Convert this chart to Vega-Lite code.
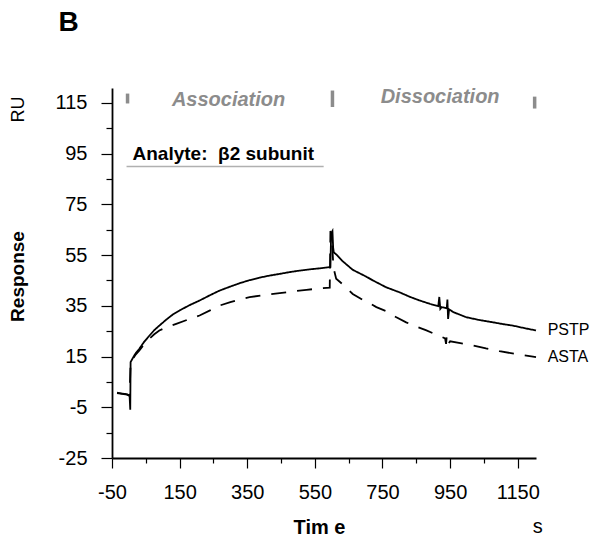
{
  "$schema": "https://vega.github.io/schema/vega-lite/v6.json",
  "width": 424,
  "height": 370,
  "autosize": {"type": "none"},
  "padding": {"left": 112, "top": 88, "right": 58, "bottom": 80},
  "background": "white",
  "config": {
    "font": "Liberation Sans",
    "view": {"stroke": null},
    "axis": {"grid": false, "domainColor": "black", "tickColor": "black", "labelColor": "black", "titleColor": "black"}
  },
  "resolve": {"axis": {"x": "independent", "y": "independent"}},
  "layer": [
    {
      "data": {
        "values": [
          {"series": "PSTP", "t": -35, "v": 0.8}, {"series": "PSTP", "t": -25, "v": 0.5}, {"series": "PSTP", "t": -15, "v": 0.3}, {"series": "PSTP", "t": -5, "v": 0.1}, {"series": "PSTP", "t": 2, "v": -0.4}, {"series": "PSTP", "t": 4, "v": -6},
          {"series": "PSTP", "t": 5, "v": 12.8}, {"series": "PSTP", "t": 12, "v": 14.5}, {"series": "PSTP", "t": 20, "v": 16.3}, {"series": "PSTP", "t": 31, "v": 18.1}, {"series": "PSTP", "t": 45, "v": 20.8}, {"series": "PSTP", "t": 61, "v": 23.3}, {"series": "PSTP", "t": 75, "v": 25.4}, {"series": "PSTP", "t": 90, "v": 27.2}, {"series": "PSTP", "t": 110, "v": 29.5}, {"series": "PSTP", "t": 130, "v": 31.6}, {"series": "PSTP", "t": 150, "v": 33.2}, {"series": "PSTP", "t": 180, "v": 35.3}, {"series": "PSTP", "t": 209, "v": 37.1}, {"series": "PSTP", "t": 240, "v": 39.2}, {"series": "PSTP", "t": 268, "v": 41}, {"series": "PSTP", "t": 300, "v": 42.6}, {"series": "PSTP", "t": 327, "v": 43.9}, {"series": "PSTP", "t": 356, "v": 45.1}, {"series": "PSTP", "t": 386, "v": 46.1}, {"series": "PSTP", "t": 415, "v": 46.9}, {"series": "PSTP", "t": 446, "v": 47.6}, {"series": "PSTP", "t": 475, "v": 48.3}, {"series": "PSTP", "t": 505, "v": 48.9}, {"series": "PSTP", "t": 535, "v": 49.4}, {"series": "PSTP", "t": 565, "v": 49.8}, {"series": "PSTP", "t": 596, "v": 50.3},
          {"series": "PSTP", "t": 598, "v": 63}, {"series": "PSTP", "t": 600, "v": 64}, {"series": "PSTP", "t": 602, "v": 64.5}, {"series": "PSTP", "t": 604, "v": 58}, {"series": "PSTP", "t": 606, "v": 56.1}, {"series": "PSTP", "t": 613, "v": 55.3}, {"series": "PSTP", "t": 633, "v": 52.5}, {"series": "PSTP", "t": 662, "v": 49.2}, {"series": "PSTP", "t": 702, "v": 46.5}, {"series": "PSTP", "t": 722, "v": 45}, {"series": "PSTP", "t": 761, "v": 42.3}, {"series": "PSTP", "t": 801, "v": 40.3}, {"series": "PSTP", "t": 830, "v": 38.6}, {"series": "PSTP", "t": 860, "v": 37.1}, {"series": "PSTP", "t": 890, "v": 35.8}, {"series": "PSTP", "t": 915, "v": 34.9}, {"series": "PSTP", "t": 918, "v": 38.5}, {"series": "PSTP", "t": 921, "v": 33.8}, {"series": "PSTP", "t": 925, "v": 34.5}, {"series": "PSTP", "t": 940, "v": 34}, {"series": "PSTP", "t": 942, "v": 37.5}, {"series": "PSTP", "t": 944, "v": 29.8}, {"series": "PSTP", "t": 947, "v": 33.6}, {"series": "PSTP", "t": 960, "v": 32.5}, {"series": "PSTP", "t": 998, "v": 30.5}, {"series": "PSTP", "t": 1037, "v": 29.4}, {"series": "PSTP", "t": 1077, "v": 28.5}, {"series": "PSTP", "t": 1106, "v": 27.8}, {"series": "PSTP", "t": 1136, "v": 27.2}, {"series": "PSTP", "t": 1170, "v": 26.2}, {"series": "PSTP", "t": 1204, "v": 25.3},
          {"series": "ASTA", "t": -35, "v": 0.6}, {"series": "ASTA", "t": -25, "v": 0.4}, {"series": "ASTA", "t": -15, "v": 0.2}, {"series": "ASTA", "t": -5, "v": 0}, {"series": "ASTA", "t": 2, "v": -0.5},
          {"series": "ASTA", "t": 5, "v": 12.5}, {"series": "ASTA", "t": 12, "v": 14.2}, {"series": "ASTA", "t": 20, "v": 15.8}, {"series": "ASTA", "t": 31, "v": 17.4}, {"series": "ASTA", "t": 45, "v": 19.9}, {"series": "ASTA", "t": 61, "v": 22.1}, {"series": "ASTA", "t": 75, "v": 23.8}, {"series": "ASTA", "t": 90, "v": 25.3}, {"series": "ASTA", "t": 110, "v": 26.5}, {"series": "ASTA", "t": 140, "v": 27.9}, {"series": "ASTA", "t": 175, "v": 29.6}, {"series": "ASTA", "t": 209, "v": 31.2}, {"series": "ASTA", "t": 240, "v": 33.2}, {"series": "ASTA", "t": 268, "v": 35.1}, {"series": "ASTA", "t": 300, "v": 36.5}, {"series": "ASTA", "t": 330, "v": 37.6}, {"series": "ASTA", "t": 357, "v": 38.4}, {"series": "ASTA", "t": 400, "v": 39.3}, {"series": "ASTA", "t": 446, "v": 40}, {"series": "ASTA", "t": 485, "v": 40.7}, {"series": "ASTA", "t": 525, "v": 41.3}, {"series": "ASTA", "t": 560, "v": 41.8}, {"series": "ASTA", "t": 594, "v": 42.2},
          {"series": "ASTA", "t": 596, "v": 64.5}, {"series": "ASTA", "t": 600, "v": 62}, {"series": "ASTA", "t": 605, "v": 50}, {"series": "ASTA", "t": 613, "v": 45.7}, {"series": "ASTA", "t": 632, "v": 43.5}, {"series": "ASTA", "t": 662, "v": 39.7}, {"series": "ASTA", "t": 690, "v": 37.5}, {"series": "ASTA", "t": 712, "v": 36}, {"series": "ASTA", "t": 732, "v": 34.5}, {"series": "ASTA", "t": 761, "v": 32.9}, {"series": "ASTA", "t": 791, "v": 30.5}, {"series": "ASTA", "t": 820, "v": 28.5}, {"series": "ASTA", "t": 850, "v": 26.8}, {"series": "ASTA", "t": 880, "v": 25.3}, {"series": "ASTA", "t": 910, "v": 23.6}, {"series": "ASTA", "t": 935, "v": 22.2}, {"series": "ASTA", "t": 938, "v": 20}, {"series": "ASTA", "t": 940, "v": 23}, {"series": "ASTA", "t": 943, "v": 19.8}, {"series": "ASTA", "t": 950, "v": 21}, {"series": "ASTA", "t": 980, "v": 20.3}, {"series": "ASTA", "t": 1017, "v": 19.4}, {"series": "ASTA", "t": 1056, "v": 18.2}, {"series": "ASTA", "t": 1096, "v": 17.1}, {"series": "ASTA", "t": 1145, "v": 16}, {"series": "ASTA", "t": 1195, "v": 15}, {"series": "ASTA", "t": 1204, "v": 14.8}
        ]
      },
      "mark": {"type": "line", "color": "black", "strokeWidth": 1.8, "interpolate": "linear"},
      "encoding": {
        "x": {"field": "t", "type": "quantitative", "scale": {"domain": [-50, 1204], "nice": false, "zero": false},
          "axis": {"orient": "bottom", "values": [-50, 150, 350, 550, 750, 950, 1150], "labelExpr": "'' + datum.value", "tickSize": 10, "tickWidth": 1.2, "domainWidth": 1.8, "labelFontSize": 20, "labelPadding": 14, "labelFlush": false, "labelOverlap": false,
            "title": "Tim e", "titleFontSize": 20, "titleFontWeight": "bold", "titleAlign": "center", "titleBaseline": "alphabetic", "titleX": 207, "titleY": 75}},
        "y": {"field": "v", "type": "quantitative", "scale": {"domain": [-25, 120.9], "nice": false, "zero": false},
          "axis": {"orient": "left", "values": [-25, -5, 15, 35, 55, 75, 95, 115], "labelExpr": "'' + datum.value", "tickSize": 11, "tickWidth": 1.2, "domainWidth": 1.8, "labelFontSize": 20, "labelPadding": 14, "labelFlush": false, "labelOverlap": false,
            "title": "Response", "titleFontSize": 19, "titleFontWeight": "bold", "titleAngle": 270, "titleAlign": "center", "titleBaseline": "alphabetic", "titleX": -89, "titleY": 188}},
        "strokeDash": {"field": "series", "type": "nominal", "scale": {"domain": ["PSTP", "ASTA"], "range": [[1, 0], [15, 11]]}, "legend": null}
      }
    },
    {
      "data": {"values": [{"t": -4, "v1": 114.8, "v2": 118.7}, {"t": 602, "v1": 113.4, "v2": 119.9}, {"t": 1200, "v1": 112.8, "v2": 117.5}]},
      "mark": {"type": "rule", "color": "#8c8c8c", "strokeWidth": 3.5},
      "encoding": {
        "x": {"field": "t", "type": "quantitative", "axis": {"orient": "bottom", "values": [50, 250, 450, 650, 850, 1050], "tickSize": 5, "tickWidth": 1.2, "labels": false, "domain": false, "title": null}},
        "y": {"field": "v1", "type": "quantitative", "axis": {"orient": "left", "values": [-15, 5, 25, 45, 65, 85, 105], "tickSize": 6, "tickWidth": 1.2, "labels": false, "domain": false, "title": null}},
        "y2": {"field": "v2"}
      }
    },
    {
      "data": {"values": [{"t1": -7, "t2": 576, "v": 89.9}]},
      "mark": {"type": "rule", "color": "#b0b0b0", "strokeWidth": 1.5},
      "encoding": {
        "x": {"field": "t1", "type": "quantitative", "axis": null},
        "x2": {"field": "t2"},
        "y": {"field": "v", "type": "quantitative", "axis": null}
      }
    },
    {
      "data": {"values": [{"label": "Association", "t": 294.7, "v": 116.2}, {"label": "Dissociation", "t": 920.4, "v": 117.2}]},
      "mark": {"type": "text", "fontSize": 20, "fontWeight": "bold", "fontStyle": "italic", "color": "#8c8c8c", "align": "center", "baseline": "middle"},
      "encoding": {
        "x": {"field": "t", "type": "quantitative", "axis": null},
        "y": {"field": "v", "type": "quantitative", "axis": null},
        "text": {"field": "label"}
      }
    },
    {
      "data": {"values": [{"label": "Analyte:\u00a0 β2 subunit", "t": 10.7, "v": 94.9}]},
      "mark": {"type": "text", "fontSize": 19, "fontWeight": "bold", "color": "black", "align": "left", "baseline": "middle"},
      "encoding": {
        "x": {"field": "t", "type": "quantitative", "axis": null},
        "y": {"field": "v", "type": "quantitative", "axis": null},
        "text": {"field": "label"}
      }
    },
    {
      "data": {"values": [{"label": "PSTP", "t": 1238.5, "v": 25.3}, {"label": "ASTA", "t": 1238.5, "v": 14.7}]},
      "mark": {"type": "text", "fontSize": 16, "color": "black", "align": "left", "baseline": "middle"},
      "encoding": {
        "x": {"field": "t", "type": "quantitative", "axis": null},
        "y": {"field": "v", "type": "quantitative", "axis": null},
        "text": {"field": "label"}
      }
    },
    {
      "data": {"values": [{"label": "B", "t": -208, "v": 143.2}]},
      "mark": {"type": "text", "fontSize": 28, "fontWeight": "bold", "color": "black", "align": "left", "baseline": "alphabetic"},
      "encoding": {
        "x": {"field": "t", "type": "quantitative", "axis": null},
        "y": {"field": "v", "type": "quantitative", "axis": null},
        "text": {"field": "label"}
      }
    },
    {
      "data": {"values": [{"label": "RU", "t": -323.7, "v": 112.4}]},
      "mark": {"type": "text", "fontSize": 18, "color": "black", "align": "center", "baseline": "middle", "angle": 270},
      "encoding": {
        "x": {"field": "t", "type": "quantitative", "axis": null},
        "y": {"field": "v", "type": "quantitative", "axis": null},
        "text": {"field": "label"}
      }
    },
    {
      "data": {"values": [{"label": "s", "t": 1208.9, "v": -54.6}]},
      "mark": {"type": "text", "fontSize": 20, "color": "black", "align": "center", "baseline": "alphabetic"},
      "encoding": {
        "x": {"field": "t", "type": "quantitative", "axis": null},
        "y": {"field": "v", "type": "quantitative", "axis": null},
        "text": {"field": "label"}
      }
    }
  ]
}
